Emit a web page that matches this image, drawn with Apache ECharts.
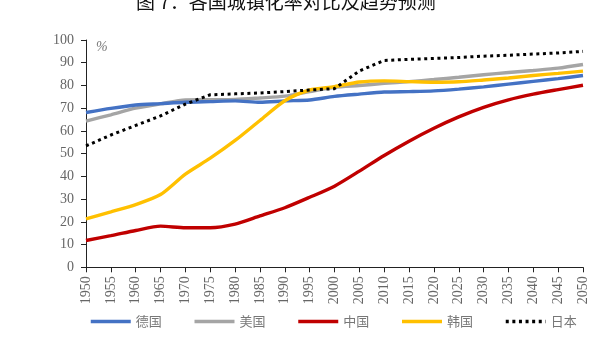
<!DOCTYPE html>
<html>
<head>
<meta charset="utf-8">
<script src="https://cdn.jsdelivr.net/npm/echarts@6/dist/echarts.min.js"></script>
<style>
html,body{margin:0;padding:0;background:#fff;}
#c{width:615px;height:342px;}
</style>
</head>
<body>
<div id="c"></div>
<script>
var titleText = '图 7：各国城镇化率对比及趋势预测';
var years = [1950,1955,1960,1965,1970,1975,1980,1985,1990,1995,2000,2005,2010,2015,2020,2025,2030,2035,2040,2045,2050];
var names = ['德国','美国','中国','韩国','日本'];
var germany = [68.1,69.9,71.4,72.0,72.6,72.9,73.2,72.6,73.2,73.6,75.2,76.2,77.1,77.3,77.6,78.4,79.4,80.6,81.8,83.0,84.4];
var usa     = [64.3,67.1,70.0,71.9,73.6,73.7,73.8,74.5,75.3,77.3,79.2,80.0,80.9,81.7,82.6,83.6,84.7,85.7,86.6,87.6,89.2];
var china   = [11.8,13.9,16.2,18.1,17.4,17.4,19.0,22.6,26.2,30.8,35.7,42.3,49.2,55.5,61.2,66.2,70.4,73.7,76.2,78.2,80.1];
var korea   = [21.3,24.4,27.6,32.0,41.0,48.0,55.8,64.6,73.3,78.0,79.5,81.5,82.0,81.7,81.4,81.6,82.4,83.3,84.4,85.3,86.3];
var japan   = [53.4,58.2,62.4,66.6,71.8,75.9,76.3,76.7,77.3,78.0,78.6,86.4,91.0,91.5,91.9,92.3,92.9,93.3,93.8,94.3,95.0];
var colors = ['#4472C4','#A5A5A5','#C00000','#FFC000','#000000'];

function pairs(vals){ return years.map(function(y,i){ return [y, vals[i]]; }); }

var chart = echarts.init(document.getElementById('c'), null, {renderer:'canvas'});
var serif = '"Liberation Serif","Times New Roman",serif';
var cjk = '"Noto Sans CJK SC",sans-serif';
var seriesData = [germany, usa, china, korea, japan];
var series = seriesData.map(function(d, i){
  var isJp = i === 4;
  return {
    name: names[i],
    type: 'line',
    data: pairs(d),
    showSymbol: false,
    symbol: 'none',
    smooth: isJp ? false : 0.25,
    z: [3,2,4,5,6][i],
    lineStyle: isJp ? {color: colors[i], width: 3, type: [3, 3.6], cap: 'butt'} : {color: colors[i], width: 3.4},
    itemStyle: {color: colors[i]}
  };
});

chart.setOption({
  animation: false,
  backgroundColor: '#fff',
  title: {
    text: titleText,
    left: 131, top: -13,
    textStyle: {fontFamily: cjk, fontSize: 19, fontWeight: 'normal', color: '#111'}
  },
  grid: {left: 86, right: 32, top: 40, bottom: 74.7, containLabel: false},
  legend: {
    data: names,
    left: 84, top: 310,
    itemWidth: 40, itemHeight: 14, itemGap: 31,
    itemStyle: {opacity: 0, borderWidth: 0},
    lineStyle: {width: 3.5},
    textStyle: {fontFamily: cjk, fontSize: 13, color: '#777'}
  },
  xAxis: {
    type: 'value', min: 1950, max: 2050, interval: 5,
    axisLine: {lineStyle: {color: '#222', width: 1}},
    axisTick: {show: true, length: 5, lineStyle: {color: '#222'}},
    splitLine: {show: false},
    axisLabel: {rotate: 90, margin: 9, fontFamily: serif, fontSize: 14, color: '#666',
      formatter: function(v){ return String(v); }}
  },
  yAxis: {
    type: 'value', min: 0, max: 100, interval: 10,
    name: '%', nameLocation: 'end', nameGap: -14,
    nameTextStyle: {fontFamily: serif, fontSize: 14, color: '#777', align: 'left', padding: [0,0,0,10], fontStyle: 'italic'},
    axisLine: {show: true, lineStyle: {color: '#222', width: 1}},
    axisTick: {show: true, length: 5, lineStyle: {color: '#222'}},
    splitLine: {show: false},
    axisLabel: {margin: 12, fontFamily: serif, fontSize: 14, color: '#666'}
  },
  series: series
});
</script>
</body>
</html>
